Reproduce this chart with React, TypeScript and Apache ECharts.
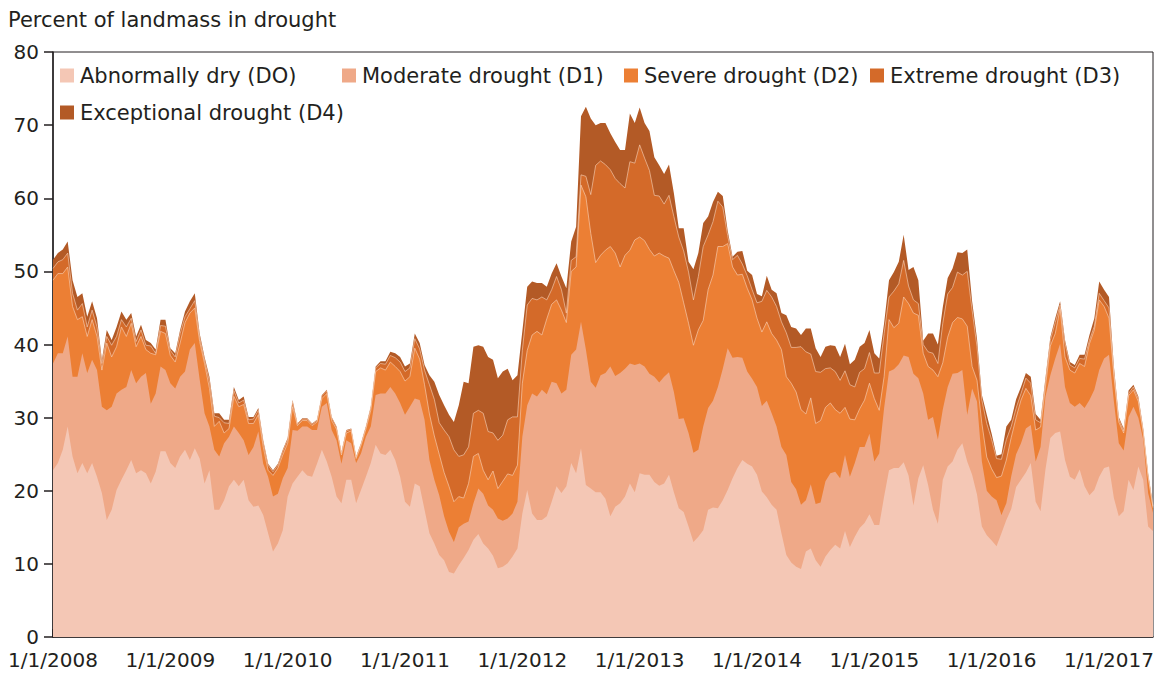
import React, { useEffect, useRef } from "react";
import * as echarts from "echarts";

// Semi-monthly observations starting 1 Jan 2008 (x = fractional year)
const START_YEAR = 2008;
const OBS_PER_YEAR = 24;

// Cumulative level (percent of landmass) at the top of each drought band
const topD4 = [
  51.6, 52.5, 53.0, 54.1, 48.8, 46.5, 47.0, 43.8, 45.9, 43.6,
  37.9, 42.0, 40.6, 42.4, 44.5, 43.4, 44.3, 41.1, 42.7, 40.6,
  40.2, 39.3, 43.4, 43.4, 39.5, 38.8, 42.0, 44.5, 45.9, 47.0,
  41.5, 38.3, 35.6, 30.6, 30.6, 29.7, 29.7, 34.2, 32.4, 32.9,
  30.1, 30.1, 31.3, 26.9, 23.7, 22.8, 23.7, 25.6, 27.2, 32.4,
  29.2, 29.9, 29.9, 29.2, 29.7, 33.1, 33.8, 30.1, 28.8, 25.3,
  28.3, 28.5, 24.7, 26.5, 28.8, 31.5, 37.0, 37.7, 37.7, 39.0,
  38.8, 38.3, 37.0, 37.4, 41.5, 40.2, 37.2, 35.8, 34.9, 33.1,
  31.7, 30.4, 29.4, 31.7, 34.9, 34.7, 39.7, 39.9, 39.7, 38.3,
  37.9, 35.4, 36.3, 36.7, 35.1, 35.8, 41.8, 47.9, 48.6, 48.4,
  48.4, 47.9, 49.7, 51.1, 49.3, 47.7, 54.1, 56.1, 71.2, 72.5,
  70.9, 70.0, 70.3, 70.3, 68.9, 67.7, 66.6, 66.6, 71.6, 70.3,
  72.4, 70.3, 69.2, 65.6, 64.5, 63.3, 64.6, 60.7, 55.9, 55.9,
  51.3, 50.3, 52.5, 56.6, 57.5, 59.5, 60.9, 60.3, 55.6, 52.0,
  52.7, 52.8, 50.1, 49.5, 46.9, 46.6, 49.4, 47.5, 47.0, 44.3,
  44.0, 42.4, 42.2, 41.3, 42.2, 42.2, 39.5, 38.3, 39.7, 39.9,
  39.8, 38.3, 40.1, 37.3, 37.9, 39.7, 40.2, 42.0, 38.8, 38.1,
  42.9, 48.8, 49.9, 51.3, 55.0, 50.2, 50.6, 48.8, 40.5, 41.5,
  41.5, 40.0, 45.1, 49.1, 50.4, 52.6, 52.5, 53.0, 45.9, 40.8,
  33.1, 30.4, 27.8, 24.8, 25.0, 28.8, 29.7, 32.5, 34.2, 36.1,
  35.6, 30.5, 29.7, 35.4, 41.0, 43.6, 45.9, 40.6, 37.6, 37.2,
  38.6, 38.6, 41.3, 43.6, 48.6, 47.5, 46.5, 37.0, 30.1, 28.5,
  33.7, 34.5, 32.9, 28.5, 22.4, 18.0,
];

const topD3 = [
  50.4, 51.3, 51.6, 52.5, 47.0, 44.7, 45.6, 42.4, 44.7, 42.4,
  37.4, 41.1, 39.9, 41.1, 43.4, 42.4, 43.6, 40.4, 42.0, 39.9,
  39.8, 38.8, 42.6, 42.5, 39.2, 38.3, 41.5, 43.8, 44.9, 46.0,
  41.0, 37.9, 35.0, 30.2, 30.0, 29.3, 29.2, 33.7, 32.0, 32.4,
  29.7, 29.8, 31.0, 26.7, 23.5, 22.6, 23.5, 25.4, 27.0, 32.2,
  29.1, 29.8, 29.8, 29.1, 29.6, 33.0, 33.7, 30.0, 28.7, 25.2,
  28.2, 28.4, 24.6, 26.4, 28.7, 31.4, 36.8, 37.4, 37.3, 38.5,
  38.2, 37.6, 36.3, 36.8, 40.8, 39.4, 36.5, 34.5, 32.5, 29.3,
  28.3, 27.4, 25.6, 24.7, 24.9, 26.0, 30.6, 31.0, 30.6, 28.1,
  27.9, 26.9, 27.6, 29.7, 30.1, 30.1, 39.2, 45.4, 46.3, 46.1,
  46.5, 46.1, 47.5, 49.3, 47.5, 44.3, 51.5, 52.0, 63.2, 63.0,
  60.5, 64.5, 65.1, 64.6, 63.9, 62.7, 62.0, 61.4, 65.0, 64.8,
  67.3, 65.5, 63.8, 60.4, 60.3, 59.2, 60.4, 57.5, 54.7, 52.8,
  49.9, 46.1, 49.3, 53.4, 55.0, 56.8, 59.6, 58.8, 54.9, 51.6,
  52.2, 51.0, 49.4, 47.5, 45.7, 45.9, 47.4, 46.5, 45.2, 43.1,
  41.6, 39.6, 39.6, 39.7, 39.0, 38.7, 36.3, 36.2, 36.7, 36.8,
  36.3, 35.1, 36.4, 34.5, 34.2, 36.2, 36.7, 38.9, 36.1, 36.1,
  41.5, 46.5, 47.3, 48.3, 51.5, 48.0, 46.1, 45.6, 40.0, 39.0,
  38.8, 37.4, 42.9, 46.9, 47.8, 49.9, 49.5, 50.0, 44.7, 39.7,
  32.4, 29.2, 27.0, 24.4, 24.3, 27.0, 28.8, 31.3, 33.3, 35.4,
  34.7, 29.7, 29.3, 35.0, 40.6, 43.0, 45.4, 40.2, 37.2, 36.8,
  38.1, 38.0, 40.6, 42.5, 47.0, 46.0, 45.0, 36.3, 29.8, 28.2,
  33.3, 34.2, 32.6, 28.3, 22.2, 17.9,
];

const topD2 = [
  48.8, 49.7, 49.7, 50.6, 45.2, 43.4, 43.8, 41.1, 43.4, 41.1,
  36.5, 40.2, 38.3, 39.7, 42.4, 41.1, 42.9, 39.7, 41.1, 39.3,
  38.8, 38.6, 41.8, 41.5, 38.5, 37.6, 40.2, 43.0, 44.3, 45.0,
  40.4, 37.4, 34.0, 28.8, 29.5, 27.9, 28.5, 32.9, 31.5, 31.8,
  29.2, 29.2, 30.4, 26.0, 22.8, 22.1, 23.1, 24.9, 26.5, 31.5,
  28.9, 29.6, 29.6, 28.9, 29.4, 32.6, 33.3, 29.6, 28.4, 24.9,
  27.9, 28.2, 24.4, 26.2, 28.4, 31.0, 36.3, 36.8, 36.5, 37.6,
  37.0, 36.3, 35.0, 35.6, 39.5, 38.0, 34.5, 30.5, 27.5, 25.0,
  22.5, 20.6, 18.5, 19.2, 19.0, 21.0, 24.7, 25.1, 22.8, 21.5,
  22.7, 20.3, 21.3, 22.3, 22.1, 23.5, 34.7, 39.2, 41.3, 41.8,
  41.3, 43.5, 45.5, 46.1, 44.7, 43.0, 50.0, 50.6, 61.8, 60.2,
  55.2, 51.2, 52.2, 52.9, 53.4, 52.5, 50.6, 52.2, 52.9, 54.3,
  54.7, 54.2, 53.0, 52.1, 52.5, 52.1, 51.8, 50.1, 48.5, 45.7,
  42.9, 39.9, 42.0, 43.3, 47.5, 49.5, 53.4, 53.4, 53.8, 50.6,
  49.5, 49.6, 47.7, 46.1, 43.6, 41.7, 43.1, 41.5, 40.6, 39.3,
  35.6, 34.7, 33.5, 31.1, 30.5, 32.7, 29.2, 29.6, 31.4, 32.0,
  31.1, 30.6, 31.4, 29.8, 29.7, 31.2, 32.4, 34.7, 32.6, 31.0,
  35.6, 43.4, 42.3, 42.9, 46.5, 45.6, 44.3, 44.0, 38.8, 37.0,
  36.5, 35.6, 37.5, 41.0, 43.0, 43.7, 43.5, 42.5, 37.0, 35.1,
  29.2, 24.6, 23.0, 21.8, 22.0, 24.2, 27.3, 30.0, 32.4, 34.0,
  33.0, 28.3, 28.7, 34.2, 39.8, 41.5, 44.9, 38.3, 36.5, 36.1,
  37.4, 37.0, 40.1, 42.0, 46.1, 45.2, 43.6, 35.8, 29.4, 27.9,
  33.0, 33.8, 32.2, 28.0, 21.9, 17.7,
];

const topD1 = [
  37.4, 38.8, 38.8, 41.1, 35.6, 35.6, 38.8, 36.1, 37.9, 36.5,
  31.5, 31.0, 31.5, 33.3, 33.8, 34.2, 36.5, 34.7, 35.6, 36.1,
  31.9, 33.3, 37.0, 36.5, 34.7, 34.0, 35.6, 36.3, 39.3, 40.2,
  35.2, 30.6, 28.8, 25.6, 24.7, 26.5, 27.4, 28.8, 27.9, 26.9,
  24.9, 26.0, 28.1, 23.7, 21.9, 19.2, 19.6, 21.7, 23.1, 28.3,
  28.2, 28.8, 28.8, 28.3, 28.3, 31.5, 32.0, 28.3, 26.9, 23.7,
  26.9, 26.5, 23.8, 25.1, 27.4, 28.8, 33.1, 33.3, 33.3, 34.2,
  33.3, 32.0, 30.4, 31.5, 32.6, 32.4, 29.7, 24.2, 21.5, 19.4,
  16.5, 14.4, 13.0, 15.0, 15.5, 15.8, 18.3, 20.3, 19.6, 18.0,
  17.4, 16.2, 15.9, 16.2, 16.9, 18.5, 27.4, 31.7, 33.3, 32.9,
  33.8, 33.2, 34.9, 34.7, 33.3, 33.8, 38.6, 39.3, 43.1, 39.3,
  34.9, 34.1, 35.8, 36.1, 37.0, 35.7, 36.1, 36.7, 37.4, 37.2,
  37.4, 37.0, 36.0, 35.6, 34.8, 35.6, 36.2, 33.5, 29.8, 29.9,
  27.9, 25.2, 25.6, 28.8, 31.3, 32.3, 34.2, 36.7, 39.5, 38.2,
  38.3, 38.2, 36.3, 35.3, 34.2, 31.6, 32.3, 30.6, 28.8, 26.0,
  24.9, 21.2, 20.2, 18.1, 18.7, 20.9, 18.2, 18.4, 21.3, 22.4,
  22.6, 21.7, 24.9, 21.9, 23.8, 26.0, 26.0, 27.8, 24.0, 25.1,
  31.3, 36.3, 36.6, 37.3, 38.5, 38.3, 36.0, 35.4, 33.3, 29.7,
  30.1, 27.0, 31.1, 34.2, 36.0, 36.1, 36.5, 30.4, 34.0, 32.2,
  24.0, 20.0, 19.2, 18.7, 16.7, 18.3, 22.0, 25.0, 26.5, 28.5,
  29.0, 24.0, 26.0, 32.9, 35.8, 38.1, 40.1, 34.2, 32.0, 31.5,
  32.0, 31.3, 32.4, 33.8, 36.5, 38.1, 38.6, 32.2, 26.5, 25.5,
  30.1, 31.5, 30.0, 27.0, 19.7, 17.0,
];

const topD0 = [
  22.8, 23.8, 25.6, 28.8, 24.7, 22.4, 23.8, 22.4, 23.8, 21.9,
  19.7, 16.0, 17.4, 20.1, 21.5, 22.8, 24.2, 22.4, 22.8, 22.4,
  21.0, 22.6, 25.4, 25.4, 23.8, 23.1, 24.7, 25.6, 24.2, 25.8,
  24.4, 21.0, 22.8, 17.4, 17.4, 18.7, 20.6, 21.5, 20.6, 21.5,
  18.7, 17.8, 18.0, 16.7, 14.2, 11.7, 12.8, 14.6, 19.2, 21.0,
  21.9, 22.8, 22.1, 21.9, 23.7, 25.6, 24.0, 21.9, 19.2, 18.3,
  21.5, 21.5, 18.3, 20.1, 21.9, 23.8, 26.3, 25.1, 24.9, 25.6,
  24.2, 21.9, 18.5, 17.8, 21.0, 20.6, 17.4, 14.2, 12.8, 11.2,
  10.5, 8.9, 8.7, 9.8, 10.8, 11.9, 13.3, 14.1, 12.8, 12.1,
  11.1, 9.4, 9.6, 10.1, 11.0, 12.1, 16.9, 20.1, 16.9, 16.0,
  16.0, 16.5, 18.5, 20.6, 19.7, 20.6, 23.8, 22.4, 25.8, 20.8,
  20.3, 19.8, 19.8, 18.9, 16.5, 17.8, 18.3, 19.2, 21.0, 19.8,
  22.4, 22.2, 22.2, 21.2, 20.7, 21.0, 22.2, 19.8, 17.6, 17.1,
  15.1, 13.0, 13.7, 14.6, 17.4, 17.7, 17.6, 18.7, 20.1, 21.7,
  23.1, 24.2, 23.7, 23.3, 22.2, 19.9, 19.1, 18.1, 17.4, 14.2,
  11.2, 10.2, 9.6, 9.3, 11.7, 12.1, 10.5, 9.6, 11.0, 11.9,
  12.6, 12.1, 14.5, 12.3, 13.7, 14.9, 15.6, 16.8, 15.3, 15.3,
  19.2, 22.8, 23.1, 23.1, 23.9, 22.1, 18.0, 21.7, 23.5, 20.8,
  17.4, 15.5, 21.5, 23.3, 24.0, 25.6, 26.5, 24.0, 22.2, 19.5,
  15.1, 13.9, 13.2, 12.4, 14.2, 16.0, 17.5, 20.5, 21.5, 22.5,
  23.8, 18.5, 17.2, 22.9, 27.2, 27.9, 28.1, 24.2, 21.9, 21.5,
  22.9, 20.6, 19.4, 20.1, 21.9, 23.1, 23.3, 19.0, 16.5, 17.2,
  21.5, 20.1, 23.3, 21.5, 15.1, 14.5,
];

const seriesNames = [
  "Abnormally dry (DO)",
  "Moderate drought (D1)",
  "Severe drought (D2)",
  "Extreme drought (D3)",
  "Exceptional drought (D4)",
];
const seriesColors = ["#f4c7b5", "#efa988", "#ec7f34", "#d46a29", "#b35a26"];
const yTicks = { min: 0, max: 80, step: 10 };
const yearTicks = { first: 2008, last: 2017 };

const FONT = "DejaVu Sans";
const INK = "#231f20";

export default function App() {
  const ref = useRef<HTMLDivElement>(null);

  useEffect(() => {
    if (!ref.current) return;
    const chart = echarts.init(ref.current, undefined, { renderer: "svg" });

    const levels = [topD0, topD1, topD2, topD3, topD4];
    const toPairs = (arr: number[]) =>
      arr.map((v, i) => [START_YEAR + i / OBS_PER_YEAR, v]);
    const lastX = START_YEAR + (topD4.length - 1) / OBS_PER_YEAR;

    // Draw from the outermost (total) band to the innermost so bands overlay
    const order = [4, 3, 2, 1, 0];
    const series = order.map((idx) => ({
      name: seriesNames[idx],
      type: "line",
      data: toPairs(levels[idx]),
      showSymbol: false,
      symbol: "none",
      smooth: false,
      color: seriesColors[idx],
      itemStyle: { color: seriesColors[idx] },
      lineStyle:
        idx === 2 || idx === 3
          ? { width: 0.7, color: "rgba(250,215,190,0.85)" }
          : { width: 0 },
      areaStyle: { color: seriesColors[idx], opacity: 1 },
      silent: true,
    }));

    const legendBase = {
      orient: "horizontal",
      padding: 0,
      itemWidth: 14,
      itemHeight: 14,
      itemGap: 0,
      icon: "rect",
      selectedMode: false,
      textStyle: { fontFamily: FONT, fontSize: 21, color: INK, padding: [0, 0, 0, 1] },
    };
    const legendPos = [
      { left: 60, top: 65 },
      { left: 342, top: 65 },
      { left: 624, top: 65 },
      { left: 870, top: 65 },
      { left: 60, top: 102 },
    ];

    chart.setOption({
      animation: false,
      backgroundColor: "#ffffff",
      title: {
        text: "Percent of landmass in drought",
        left: 8,
        top: 9,
        padding: 0,
        textStyle: { fontFamily: FONT, fontSize: 21, fontWeight: "normal", color: INK },
      },
      legend: legendPos.map((p, i) => ({ ...legendBase, ...p, data: [seriesNames[i]] })),
      grid: {
        left: 53,
        right: 7,
        top: 52,
        bottom: 40,
        show: true,
        borderColor: INK,
        borderWidth: 1,
        backgroundColor: "transparent",
      },
      xAxis: {
        type: "value",
        min: yearTicks.first,
        max: lastX,
        interval: 1,
        axisLine: { show: true, onZero: false, lineStyle: { color: INK, width: 1.5 } },
        axisTick: { show: true, inside: true, length: 8, lineStyle: { color: INK, width: 1.5 } },
        splitLine: { show: false },
        axisLabel: {
          margin: 13,
          fontFamily: FONT,
          fontSize: 20,
          color: INK,
          showMaxLabel: false,
          formatter: (v: number) =>
            Number.isInteger(v) && v >= yearTicks.first && v <= yearTicks.last ? `1/1/${v}` : "",
        },
      },
      yAxis: {
        type: "value",
        min: yTicks.min,
        max: yTicks.max,
        interval: yTicks.step,
        axisLine: { show: true, lineStyle: { color: INK, width: 1.5 } },
        axisTick: { show: true, inside: false, length: 9, lineStyle: { color: INK, width: 1.5 } },
        splitLine: { show: false },
        axisLabel: { margin: 14, fontFamily: FONT, fontSize: 20, color: INK },
      },
      series,
    });

    return () => chart.dispose();
  }, []);

  return (
    <div
      ref={ref}
      style={{ position: "absolute", left: 0, top: 0, width: 1160, height: 677 }}
    />
  );
}
